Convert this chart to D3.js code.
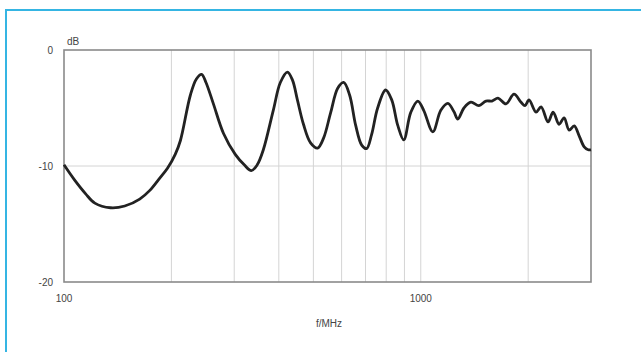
<!DOCTYPE html>
<html>
<head>
<meta charset="utf-8">
<script src="https://cdn.jsdelivr.net/npm/d3@7"></script>
<style>
  body { margin: 0; background: #fff; }
  svg { display: block; font-family: "Liberation Sans", Arial, sans-serif; }
  .grid line { stroke: #d4d4d4; stroke-width: 1; }
  .lbl { fill: #444; font-size: 10px; }
</style>
</head>
<body>
<div id="graph"></div>
<script>
// frequency response
var freq = [100, 107, 115, 122, 135, 148, 163, 174, 186, 195, 205, 212, 226, 235, 243, 250, 262, 280, 302,
    320, 335, 348, 362, 386, 404, 423, 437, 451, 469, 491, 514, 534, 559, 585, 608, 632, 657, 683, 705,
    728, 757, 797, 829, 862, 896, 937, 981, 1019, 1081, 1138, 1191, 1238, 1270, 1321, 1382, 1455, 1523,
    1583, 1646, 1733, 1825, 1910, 1960, 2011, 2104, 2174, 2274, 2349, 2442, 2522, 2605, 2691, 2779, 2871,
    2946, 3000];
var level = [-9.9, -11.2, -12.4, -13.2, -13.6, -13.45, -12.85, -12.1, -11.0, -10.2, -9.0, -7.8, -3.9, -2.5,
    -2.1, -2.8, -4.6, -7.2, -9.0, -9.9, -10.4, -9.9, -8.6, -5.2, -2.8, -1.9, -2.6, -4.3, -6.4, -8.0, -8.45,
    -7.6, -5.4, -3.3, -2.8, -3.9, -6.5, -8.2, -8.5, -7.3, -5.0, -3.45, -4.3, -6.5, -7.75, -5.4, -4.4, -5.2,
    -7.05, -5.2, -4.6, -5.3, -5.95, -5.0, -4.5, -4.8, -4.4, -4.4, -4.15, -4.65, -3.8, -4.5, -4.8, -4.3,
    -5.35, -4.9, -6.2, -5.35, -6.4, -5.85, -6.9, -6.55, -7.4, -8.35, -8.6, -8.6];

var gridFreq = [200, 300, 400, 500, 600, 700, 800, 900, 1000, 2000];
var xTicks = [100, 1000];
var yTicks = [0, -10, -20];

function Chart() {
    var width = 641, height = 352;
    var padL = 64, padR = 591, padT = 50, padB = 282;

    var svg = d3.select("#graph").append("svg")
        .attr("width", width)
        .attr("height", height);

    // cyan frame round the figure
    svg.append("path")
        .attr("d", "M6," + (height + 2) + "V10H" + (width + 2))
        .attr("fill", "none")
        .attr("stroke", "#35b5e3")
        .attr("stroke-width", 2);

    var xScale = d3.scaleLog().domain([100, 3000]).range([padL, padR]);
    var yScale = d3.scaleLinear().domain([-20, 0]).range([padB, padT]);

    var grid = svg.append("g").attr("class", "grid");
    grid.selectAll(".gx").data(gridFreq).enter().append("line")
        .attr("x1", function(d) { return xScale(d); })
        .attr("x2", function(d) { return xScale(d); })
        .attr("y1", padT).attr("y2", padB);
    grid.append("line")
        .attr("x1", padL).attr("x2", padR)
        .attr("y1", yScale(-10)).attr("y2", yScale(-10));

    // plot box
    svg.append("rect")
        .attr("x", padL).attr("y", padT)
        .attr("width", padR - padL).attr("height", padB - padT)
        .attr("fill", "none")
        .attr("stroke", "#8a8a8a")
        .attr("stroke-width", 1.6);

    var line = d3.line()
        .x(function(d, i) { return xScale(freq[i]); })
        .y(function(d) { return yScale(d); })
        .curve(d3.curveCatmullRom.alpha(0.5));

    svg.append("path")
        .datum(level)
        .attr("d", line)
        .attr("fill", "none")
        .attr("stroke", "#222")
        .attr("stroke-width", 2.8)
        .attr("stroke-linejoin", "round");

    svg.selectAll(".ylbl").data(yTicks).enter().append("text")
        .attr("class", "lbl")
        .attr("x", 53)
        .attr("y", function(d) { return yScale(d) + 4; })
        .attr("text-anchor", "end")
        .text(function(d) { return d; });

    svg.selectAll(".xlbl").data(xTicks).enter().append("text")
        .attr("class", "lbl")
        .attr("x", function(d) { return xScale(d); })
        .attr("y", 302)
        .attr("text-anchor", "middle")
        .text(function(d) { return d; });

    svg.append("text").attr("class", "lbl")
        .attr("x", 67).attr("y", 45)
        .text("dB");

    svg.append("text").attr("class", "lbl")
        .attr("x", 329).attr("y", 327)
        .attr("text-anchor", "middle")
        .text("f/MHz");
}

Chart();
</script>
</body>
</html>
